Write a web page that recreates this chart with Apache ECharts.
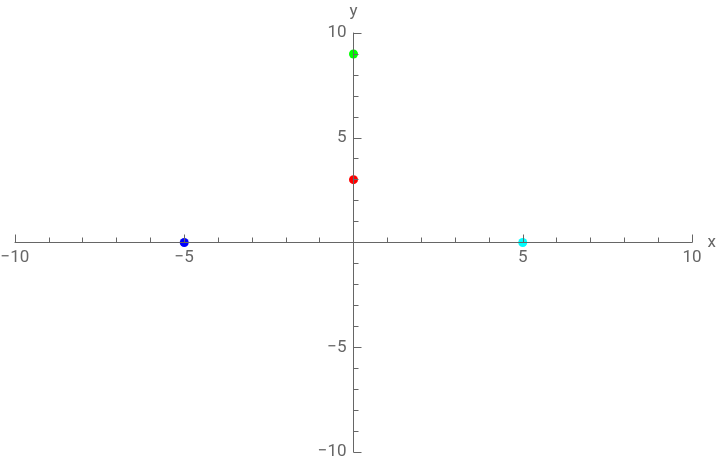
<!DOCTYPE html>
<html>
<head>
<meta charset="utf-8">
<script src="https://cdn.jsdelivr.net/npm/echarts@6/dist/echarts.min.js"></script>
<style>html,body{margin:0;padding:0;background:#fff}#c{width:720px;height:466px}</style>
</head>
<body>
<div id="c"></div>
<script>
var xRange = [-10, 10];
var yRange = [-10, 10];
var pointXs = [-5, 5, 0, 0];
var pointYs = [0, 0, 9, 3];
var pointColors = ['#0000ff', '#00ffff', '#00ff00', '#ff0000'];

var W = 720, H = 466;
var gL = 15, gR = 28, gT = 33, gB = 14;
var chart = echarts.init(document.getElementById('c'));
function fmt(v) { return v === 0 ? '' : String(v).replace('-', '\u2212'); }
var axisCommon = {
  type: 'value',
  interval: 5,
  axisLine: { onZero: false, lineStyle: { color: '#666', width: 1 } },
  axisTick: { show: true, inside: true, length: 8, lineStyle: { color: '#666' } },
  minorTick: { show: true, splitNumber: 5, length: 5, lineStyle: { color: '#666' } },
  splitLine: { show: false },
  axisLabel: { color: '#666', fontSize: 17, fontFamily: 'Roboto', formatter: fmt, showMinLabel: true, showMaxLabel: true },
  nameTextStyle: { color: '#666', fontSize: 17, fontFamily: 'Roboto' },
  z: 5
};
var series = pointXs.map(function (x, i) {
  return {
    type: 'scatter',
    data: [[x, pointYs[i]]],
    symbolSize: 9,
    itemStyle: { color: pointColors[i], borderWidth: 0, opacity: 1 },
    z: 1
  };
});
chart.setOption({
  animation: false,
  grid: { left: gL, right: gR, top: gT, bottom: gB, containLabel: false, outerBoundsMode: 'none' },
  xAxis: Object.assign({}, axisCommon, {
    position: 'bottom',
    offset: -(H - gT - gB) / 2,
    min: xRange[0], max: xRange[1], name: 'x', nameGap: 15,
    axisLabel: Object.assign({}, axisCommon.axisLabel, { margin: 7 })
  }),
  yAxis: Object.assign({}, axisCommon, {
    position: 'left',
    offset: -(W - gL - gR) / 2,
    min: yRange[0], max: yRange[1], name: 'y', nameGap: 13,
    axisLabel: Object.assign({}, axisCommon.axisLabel, { margin: 7 })
  }),
  series: series
});
</script>
</body>
</html>
